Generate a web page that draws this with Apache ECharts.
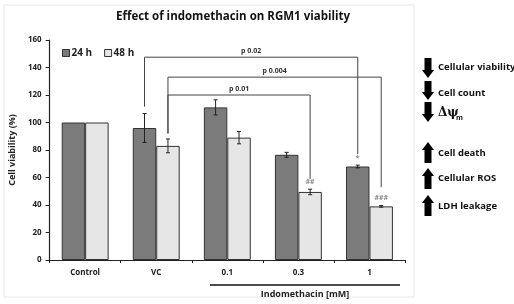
<!DOCTYPE html>
<html>
<head>
<meta charset="utf-8">
<script src="https://cdn.jsdelivr.net/npm/echarts@6/dist/echarts.min.js"></script>
<style>
html, body { margin: 0; padding: 0; background: #fff; }
#chart { width: 514px; height: 304px; }
</style>
</head>
<body>
<div id="chart"></div>
<script>
var categories = ['Control', 'VC', '0.1', '0.3', '1'];
var yTicks = [0, 20, 40, 60, 80, 100, 120, 140, 160];
var viability24 = [100, 96, 111, 76.5, 68];
var viability48 = [100, 83, 89, 49.5, 39];
var err24 = [0, 10.5, 5.5, 1.8, 1];
var err48 = [0, 5, 4.5, 2, 0.6];
var marks24 = ['', '', '', '', '*'];
var marks48 = ['', '', '', '##', '###'];
// bracket: from cat, from bar (0=24h 1=48h), from value, to cat, to bar, to value, top value
var brackets = [
    [1, 0, 111.5, 4, 0, 77, 147.5],
    [1, 1, 92, 4, 1, 53, 133],
    [1, 1, 92, 3, 1, 59, 120]
];
var bracketLabels = ['p 0.02', 'p 0.004', 'p 0.01'];
var effectsDown = ['Cellular viability', 'Cell count'];
var effectsUp = ['Cell death', 'Cellular ROS', 'LDH leakage'];

var font = '"Open Sans", sans-serif';
var chart = echarts.init(document.getElementById('chart'))

function barX(api, cat, bar) {
    var c = api.coord([cat, 0])[0]
    var band = api.size([1, 0])[0]
    return c + (bar === 0 ? -1 : 1) * band * 0.165
}

function errorData(vals, errs, bar) {
    var out = []
    vals.forEach(function (v, i) {
        out.push([i, v, errs[i], bar])
    })
    return out
}

function renderError(marks) {
    return function (params, api) {
        var cat = api.value(0), v = api.value(1), e = api.value(2), bar = api.value(3)
        var x = barX(api, cat, bar)
        var hi = api.coord([cat, v + e])[1]
        var lo = api.coord([cat, v - e])[1]
        var children = []
        if (e > 0) {
            var st = { stroke: '#222', lineWidth: 1 }
            children.push({ type: 'line', shape: { x1: x, y1: hi, x2: x, y2: lo }, style: st })
            children.push({ type: 'line', shape: { x1: x - 2, y1: hi, x2: x + 2, y2: hi }, style: st })
            children.push({ type: 'line', shape: { x1: x - 2, y1: lo, x2: x + 2, y2: lo }, style: st })
        }
        var m = marks[params.dataIndex]
        if (m) {
            children.push({
                type: 'text',
                style: { text: m, x: x, y: hi - 4, align: 'center', verticalAlign: 'bottom',
                    fill: '#888', font: 'bold 7px ' + font }
            })
        }
        return { type: 'group', children: children }
    }
}

function renderBracket(params, api) {
    var x1 = barX(api, api.value(0), api.value(1))
    var y1 = api.coord([0, api.value(2)])[1]
    var x2 = barX(api, api.value(3), api.value(4))
    var y2 = api.coord([0, api.value(5)])[1]
    var yt = api.coord([0, api.value(6)])[1]
    return {
        type: 'group',
        children: [
            { type: 'polyline', shape: { points: [[x1, y1], [x1, yt], [x2, yt], [x2, y2]] },
              style: { stroke: '#444', lineWidth: 1, fill: null } },
            { type: 'text', style: { text: bracketLabels[params.dataIndex], x: (x1 + x2) / 2, y: yt - 3,
              align: 'center', verticalAlign: 'bottom', fill: '#333', font: 'bold 7px ' + font } }
        ]
    }
}

function arrow(cx, top, bottom, up) {
    var hw = 6, sw = 3.5, hh = 8
    var pts
    if (up) {
        pts = [[cx, top], [cx + hw, top + hh], [cx + sw, top + hh], [cx + sw, bottom],
               [cx - sw, bottom], [cx - sw, top + hh], [cx - hw, top + hh]]
    } else {
        pts = [[cx, bottom], [cx + hw, bottom - hh], [cx + sw, bottom - hh], [cx + sw, top],
               [cx - sw, top], [cx - sw, bottom - hh], [cx - hw, bottom - hh]]
    }
    return { type: 'polygon', shape: { points: pts }, style: { fill: '#000' } }
}

var graphics = [
    { type: 'rect', shape: { x: 4, y: 5, width: 410, height: 292 },
      style: { fill: null, stroke: '#e8e8e8', lineWidth: 1 }, z: -1 },
    { type: 'line', shape: { x1: 210, y1: 285, x2: 400, y2: 285 }, style: { stroke: '#111', lineWidth: 1.5 } },
    { type: 'text', style: { text: 'Indomethacin [mM]', x: 305, y: 294, align: 'center', verticalAlign: 'middle',
      fill: '#222', font: 'bold 9px ' + font } }
]
var downY = [[58, 78, 67], [81, 100, 93]]
effectsDown.forEach(function (t, i) {
    graphics.push(arrow(428, downY[i][0], downY[i][1], false))
    graphics.push({ type: 'text', style: { text: t, x: 438, y: downY[i][2], verticalAlign: 'middle',
        fill: '#111', font: 'bold 9.5px ' + font } })
})
graphics.push(arrow(428, 102, 122, false))
graphics.push({ type: 'text', style: { text: 'Δψ', x: 438, y: 113, verticalAlign: 'middle',
    fill: '#111', font: 'bold 12px "DejaVu Serif", serif' } })
graphics.push({ type: 'text', style: { text: 'm', x: 456, y: 118, verticalAlign: 'middle',
    fill: '#111', font: 'bold 7px ' + font } })
var upY = [[142, 163, 153], [168, 189, 178], [195, 216, 206]]
effectsUp.forEach(function (t, i) {
    graphics.push(arrow(428, upY[i][0], upY[i][1], true))
    graphics.push({ type: 'text', style: { text: t, x: 438, y: upY[i][2], verticalAlign: 'middle',
        fill: '#111', font: 'bold 9.5px ' + font } })
})

var option = {
    animation: false,
    title: {
        text: 'Effect of indomethacin on RGM1 viability',
        left: 228, top: 6, textAlign: 'center',
        textStyle: { fontFamily: font, fontSize: 11.5, fontWeight: 'bold', color: '#111' }
    },
    legend: {
        left: 57, top: 43, itemWidth: 7, itemHeight: 7, itemGap: 12, icon: 'rect',
        data: ['24 h', '48 h'],
        itemStyle: { borderColor: '#333', borderWidth: 1 },
        textStyle: { fontFamily: font, fontSize: 10, fontWeight: 'bold', color: '#222', padding: [0, 0, 0, -3] }
    },
    grid: { left: 47, right: 109, top: 40, bottom: 44 },
    xAxis: {
        type: 'category',
        data: categories,
        axisLine: { lineStyle: { color: '#222', width: 1.2 } },
        axisTick: { show: true, length: 3, lineStyle: { color: '#222' } },
        axisLabel: { margin: 9, color: '#222', fontFamily: font, fontSize: 8, fontWeight: 'bold' }
    },
    yAxis: {
        type: 'value',
        min: yTicks[0], max: yTicks[yTicks.length - 1], interval: 20,
        name: 'Cell viability (%)',
        nameLocation: 'middle', nameGap: 30,
        nameTextStyle: { fontFamily: font, fontSize: 9, fontWeight: 'bold', color: '#222' },
        axisLine: { show: true, lineStyle: { color: '#222', width: 1.2 } },
        axisTick: { show: true, length: 4, lineStyle: { color: '#222' } },
        splitLine: { show: false },
        axisLabel: { margin: 8, color: '#222', fontFamily: font, fontSize: 8, fontWeight: 'bold' }
    },
    series: [
        {
            name: '24 h', type: 'bar', data: viability24,
            barGap: '0%', barCategoryGap: '34%',
            itemStyle: { color: '#7b7b7b', borderColor: '#333', borderWidth: 1 }
        },
        {
            name: '48 h', type: 'bar', data: viability48,
            itemStyle: { color: '#e6e6e6', borderColor: '#333', borderWidth: 1 }
        },
        {
            type: 'custom', data: errorData(viability24, err24, 0),
            renderItem: renderError(marks24), z: 5, silent: true
        },
        {
            type: 'custom', data: errorData(viability48, err48, 1),
            renderItem: renderError(marks48), z: 5, silent: true
        },
        {
            type: 'custom', data: brackets, renderItem: renderBracket, z: 4, silent: true
        }
    ],
    graphic: graphics
}
chart.setOption(option)
</script>
</body>
</html>
